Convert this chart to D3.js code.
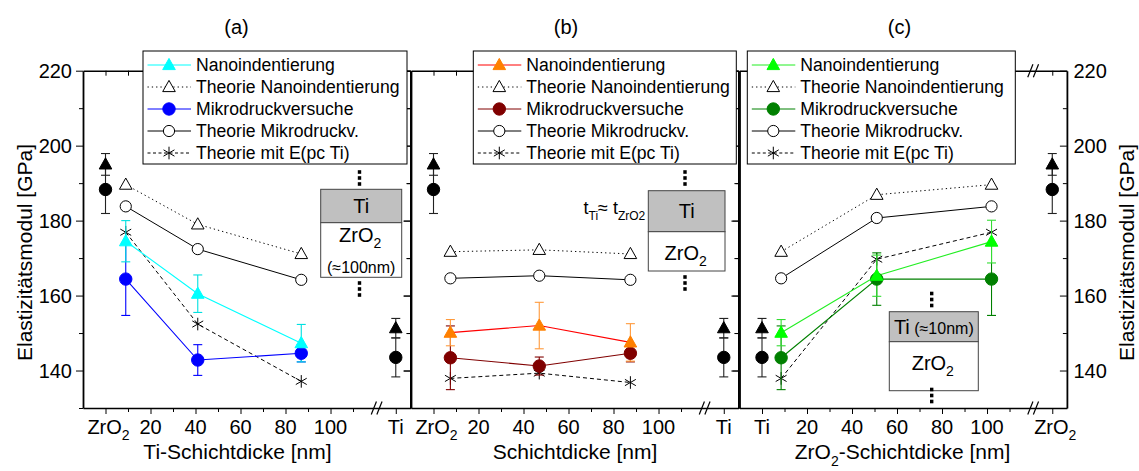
<!DOCTYPE html>
<html>
<head>
<meta charset="utf-8">
<title>Elastizitätsmodul</title>
<script src="https://d3js.org/d3.v7.min.js"></script>
<style>
body { margin: 0; background: #fff; }
svg text { font-family: "Liberation Sans", Arial, sans-serif; fill: #000; }
</style>
</head>
<body>
<svg id="chart" width="1139" height="471"></svg>
<script>
// ---- data ----
const panelTitles = ["(a)", "(b)", "(c)"];
const axisTitles = ["Ti-Schichtdicke [nm]", "Schichtdicke [nm]", "ZrO|_2|-Schichtdicke [nm]"];
const numTicks = [20, 40, 60, 80, 100];
const minorTicks = [10, 30, 50, 70, 90, 110];
const yTicks = [140, 160, 180, 200, 220];
const yMinor = [130, 150, 170, 190, 210];
const endLabels = [["ZrO|_2", "Ti"], ["ZrO|_2", "Ti"], ["Ti", "ZrO|_2"]];
const legendNames = ["Nanoindentierung", "Theorie Nanoindentierung", "Mikrodruckversuche",
                     "Theorie Mikrodruckv.", "Theorie mit E(pc Ti)"];
const insetTop = ["Ti", "Ti", "Ti| (≈10nm)"];
const insetNote = ["(≈100nm)", "", ""];

// bulk reference values: [ZrO2, Ti]
const refNano = [195, 151.3];
const refNanoErr = [2.9, 2.6];
const refMikro = [188.3, 143.5];
const refMikroErr = [6.4, 5.2];

// (a) Ti layer thickness varied
const thickA = [9, 41, 87];
const nanoA = [174.5, 160.5, 147.3];
const nanoErrA = [5.5, 5, 5];
const theoNanoA = [189.6, 179, 171.1];
const mikroA = [164.4, 142.8, 144.6];
const mikroErrA = [9.7, 4.1, 2.3];
const theoMikroA = [183.8, 172.4, 164.2];
const theoPcA = [176.9, 152.4, 137.1];

// (b) equal layer thickness
const thickB = [7.5, 47, 87.5];
const nanoB = [150.1, 152, 147.5];
const nanoErrB = [3.5, 6.2, 5];
const theoNanoB = [171.7, 172.2, 171.1];
const mikroB = [143.4, 141.2, 144.6];
const mikroErrB = [8.5, 2.4, 2.3];
const theoMikroB = [164.6, 165.3, 164.2];
const theoPcB = [137.9, 139.3, 136.8];

// (c) ZrO2 layer thickness varied
const thickC = [8.5, 51, 102];
const nanoC = [150.1, 165.3, 174.4];
const nanoErrC = [3.5, 5.5, 5.7];
const theoNanoC = [171.7, 186.9, 189.6];
const mikroC = [143.4, 164.4, 164.4];
const mikroErrC = [8.5, 7, 9.7];
const theoMikroC = [164.6, 180.7, 183.8];
const theoPcC = [137.9, 169.7, 176.9];

// ---- layout ----
const svg = d3.select("#chart");
const W = 327.4;
const x = d3.scaleLinear().domain([-10, 135.5]).range([0, W]);
const y = d3.scaleLinear().domain([130, 220]).range([408, 70.7]);
const endX = [0, 129];
const breakAt = 120.5;

const panels = [
  { left: 83, thick: thickA, nano: nanoA, nanoErr: nanoErrA, theoNano: theoNanoA, mikro: mikroA,
    mikroErr: mikroErrA, theoMikro: theoMikroA, theoPc: theoPcA,
    nanoLine: "#00ffff", nanoFill: "#00ffff", nanoErrCol: "#00e0e0", mikroCol: "#0000ff",
    refOrder: [0, 1], legX: 143, legW: 264, titleX: 154.5, capX: 153.5,
    box: [237.7, 189.3, 81, 33.4, 54.6], dotX: 276.5, dotsUp: 172, dotsDown: 283 },
  { left: 411, thick: thickB, nano: nanoB, nanoErr: nanoErrB, theoNano: theoNanoB, mikro: mikroB,
    mikroErr: mikroErrB, theoMikro: theoMikroB, theoPc: theoPcB,
    nanoLine: "#ff0000", nanoFill: "#ff8000", nanoErrCol: "#ff9a3c", mikroCol: "#800000",
    refOrder: [0, 1], legX: 473.3, legW: 263, titleX: 164, capX: 155,
    box: [237.3, 190.7, 76.7, 41, 39.3], dotX: 274, dotsUp: 172, dotsDown: 277 },
  { left: 739.5, thick: thickC, nano: nanoC, nanoErr: nanoErrC, theoNano: theoNanoC, mikro: mikroC,
    mikroErr: mikroErrC, theoMikro: theoMikroC, theoPc: theoPcC,
    nanoLine: "#22ee22", nanoFill: "#00ff00", nanoErrCol: "#33dd33", mikroCol: "#008000",
    refOrder: [1, 0], legX: 747.3, legW: 268, titleX: 163, capX: 160,
    box: [149.8, 311.7, 89, 30, 49], dotX: 192.2, dotsUp: 293.5, dotsDown: 389.5 }
];

// text with subscripts: segments split by "|", a leading "_" marks a subscript
function rich(t, s, fs) {
  let low = false;
  s.split("|").forEach(p => {
    const sub = p.startsWith("_");
    const txt = sub ? p.slice(1) : p;
    const dy = sub && !low ? fs * 0.32 : (!sub && low ? -fs * 0.32 : 0);
    low = sub;
    t.append("tspan").attr("dy", dy)
      .style("font-size", (sub ? Math.round(fs * 0.68) : fs) + "px").text(txt);
  });
  return t;
}

const triPath = "M0,-6.6L6.3,4.6L-6.3,4.6Z";
const starPath = (() => {
  const r = 6.3, t = r / 2, u = t * Math.sqrt(3);
  return `M0,${r}L0,${-r}M${-u},${-t}L${u},${t}M${-u},${t}L${u},${-t}`;
})();
const circPath = r => d3.symbol(d3.symbolCircle, Math.PI * r * r)();

function marker(g, type, cx, cy, fill, stroke) {
  const d = type === "tri" ? triPath : type === "star" ? starPath : circPath(type === "circ" ? 6.2 : 5.6);
  g.append("path").attr("d", d).attr("transform", `translate(${cx},${cy})`)
    .attr("fill", type === "star" ? "none" : fill).attr("stroke", stroke).attr("stroke-width", 1);
}

function errBar(g, cx, v, e, col) {
  const g2 = g.append("g").attr("stroke", col).attr("stroke-width", 1.1);
  g2.append("line").attr("x1", cx).attr("x2", cx).attr("y1", y(v - e)).attr("y2", y(v + e));
  [v - e, v + e].forEach(w => g2.append("line").attr("x1", cx - 4.5).attr("x2", cx + 4.5)
    .attr("y1", y(w)).attr("y2", y(w)));
}

function breakMark(g, yy) {
  const bx = x(breakAt);
  [-2.8, 2.8].forEach(o => g.append("line")
    .attr("x1", bx + o - 2.6).attr("y1", yy + 6.5).attr("x2", bx + o + 2.6).attr("y2", yy - 6.5)
    .attr("stroke", "#000").attr("stroke-width", 1.2));
}

const line = d3.line().x(d => x(d[0])).y(d => y(d[1]));
const pairs = (xs, ys) => xs.map((v, i) => [v, ys[i]]);

panels.forEach((p, pi) => {
  const g = svg.append("g").attr("transform", `translate(${p.left},0)`);

  // x axes (bottom and top), all ticks point down
  [y(130), y(220)].forEach((yy, k) => {
    const major = g.append("g").attr("transform", `translate(0,${yy})`)
      .call(d3.axisBottom(x).tickValues([0, ...numTicks, 129]).tickSize(k === 0 ? 6 : 5)
        .tickSizeOuter(0).tickFormat(""));
    major.select(".domain").attr("stroke-width", 1.6);
    const minor = g.append("g").attr("transform", `translate(0,${yy})`)
      .call(d3.axisBottom(x).tickValues(minorTicks).tickSize(k === 0 ? 4 : 5).tickFormat(""));
    minor.select(".domain").remove();
    breakMark(g, yy);
  });

  // y axes on both edges, ticks point left
  [0, W].forEach(ex => {
    const a = g.append("g").attr("transform", `translate(${ex},0)`)
      .call(d3.axisLeft(y).tickValues(yTicks).tickSize(7).tickSizeOuter(0).tickFormat(""));
    a.select(".domain").attr("stroke-width", 1.8);
    const m = g.append("g").attr("transform", `translate(${ex},0)`)
      .call(d3.axisLeft(y).tickValues(yMinor).tickSize(4).tickFormat(""));
    m.select(".domain").remove();
  });

  // x tick labels
  g.selectAll(".xnum").data(numTicks).enter().append("text")
    .attr("x", d => x(d)).attr("y", 433.5).attr("text-anchor", "middle")
    .style("font-size", "20px").text(d => d);
  endX.forEach((v, i) => {
    rich(g.append("text").attr("x", x(v) + (endLabels[pi][i] === "Ti" ? 0 : 3)).attr("y", 433.5)
      .attr("text-anchor", "middle"), endLabels[pi][i], 20);
  });

  // titles
  rich(g.append("text").attr("x", p.titleX).attr("y", 459).attr("text-anchor", "middle"), axisTitles[pi], 21);
  g.append("text").attr("x", p.capX).attr("y", 34).attr("text-anchor", "middle")
    .style("font-size", "20px").text(panelTitles[pi]);

  // bulk references at both ends
  p.refOrder.forEach((ri, k) => {
    const cx = x(endX[k]);
    errBar(g, cx, refMikro[ri], refMikroErr[ri], "#222");
    errBar(g, cx, refNano[ri], refNanoErr[ri], "#222");
    marker(g, "tri", cx, y(refNano[ri]), "#000", "#000");
    marker(g, "circ", cx, y(refMikro[ri]), "#000", "#000");
  });

  // theory curves
  g.append("path").attr("d", line(pairs(p.thick, p.theoNano))).attr("fill", "none")
    .attr("stroke", "#000").attr("stroke-dasharray", "1.3,3").attr("stroke-width", 1);
  g.append("path").attr("d", line(pairs(p.thick, p.theoMikro))).attr("fill", "none")
    .attr("stroke", "#000").attr("stroke-width", 1);
  g.append("path").attr("d", line(pairs(p.thick, p.theoPc))).attr("fill", "none")
    .attr("stroke", "#000").attr("stroke-dasharray", "4,3").attr("stroke-width", 1);
  p.thick.forEach((t, i) => {
    marker(g, "tri", x(t), y(p.theoNano[i]), "#fff", "#000");
    marker(g, "ocirc", x(t), y(p.theoMikro[i]), "#fff", "#000");
    marker(g, "star", x(t), y(p.theoPc[i]), "none", "#000");
  });

  // measurements
  p.thick.forEach((t, i) => {
    errBar(g, x(t), p.mikro[i], p.mikroErr[i], p.mikroCol);
    errBar(g, x(t), p.nano[i], p.nanoErr[i], p.nanoErrCol);
  });
  g.append("path").attr("d", line(pairs(p.thick, p.mikro))).attr("fill", "none")
    .attr("stroke", p.mikroCol).attr("stroke-width", 1.1);
  g.append("path").attr("d", line(pairs(p.thick, p.nano))).attr("fill", "none")
    .attr("stroke", p.nanoLine).attr("stroke-width", 1.1);
  p.thick.forEach((t, i) => {
    marker(g, "circ", x(t), y(p.mikro[i]), p.mikroCol, p.mikroCol);
    marker(g, "tri", x(t), y(p.nano[i]), p.nanoFill, p.nanoFill);
  });

  // layer sketch
  const [bx, by, bw, bh1, bh2] = p.box;
  g.append("rect").attr("x", bx).attr("y", by).attr("width", bw).attr("height", bh1)
    .attr("fill", "#c0c0c0").attr("stroke", "#444");
  g.append("rect").attr("x", bx).attr("y", by + bh1).attr("width", bw).attr("height", bh2)
    .attr("fill", "#fff").attr("stroke", "#444");
  const tTop = g.append("text").attr("x", bx + bw / 2).attr("y", by + bh1 / 2 + 7).attr("text-anchor", "middle");
  insetTop[pi].split("|").forEach((s, k) => tTop.append("tspan").style("font-size", k ? "16px" : "20px").text(s));
  rich(g.append("text").attr("x", bx + bw / 2 - 1).attr("y", by + bh1 + (pi === 0 ? 19 : 28))
    .attr("text-anchor", "middle"), "ZrO|_2", 20);
  if (insetNote[pi]) g.append("text").attr("x", bx + bw / 2).attr("y", by + bh1 + 50)
    .attr("text-anchor", "middle").style("font-size", "16px").text(insetNote[pi]);
  [p.dotsUp, p.dotsDown].forEach(d0 => [0, 6, 12].forEach(o => g.append("rect")
    .attr("x", p.dotX - 1.7).attr("y", d0 + o - 1.8).attr("width", 3.4).attr("height", 3.6).attr("fill", "#000")));
  if (pi === 1) {
    rich(g.append("text").attr("x", bx - 3).attr("y", 214).attr("text-anchor", "end"),
      "t|_Ti|≈ t|_ZrO2", 18);
  }
});

// legends
panels.forEach(p => {
  const lg = svg.append("g").attr("transform", `translate(${p.legX},51)`);
  lg.append("rect").attr("width", p.legW).attr("height", 113).attr("fill", "#fff").attr("stroke", "#000");
  const styles = [
    { col: p.nanoLine, dash: null, m: "tri", fill: p.nanoFill, st: p.nanoFill },
    { col: "#000", dash: "1.3,3", m: "tri", fill: "#fff", st: "#000" },
    { col: p.mikroCol, dash: null, m: "circ", fill: p.mikroCol, st: p.mikroCol },
    { col: "#000", dash: null, m: "ocirc", fill: "#fff", st: "#000" },
    { col: "#000", dash: "3,2.5", m: "star", fill: "none", st: "#000" }
  ];
  legendNames.forEach((name, i) => {
    const ry = 14 + i * 22;
    const s = styles[i];
    lg.append("line").attr("x1", 4.5).attr("x2", 48).attr("y1", ry).attr("y2", ry)
      .attr("stroke", s.col).attr("stroke-width", 1).attr("stroke-dasharray", s.dash);
    marker(lg, s.m, 26, ry, s.fill, s.st);
    lg.append("text").attr("x", 53).attr("y", ry + 6.3).style("font-size", "17.6px").text(name);
  });
});

// y tick labels and axis titles
svg.selectAll(".yl").data(yTicks).enter().append("text")
  .attr("x", 72).attr("y", d => y(d) + 7).attr("text-anchor", "end")
  .style("font-size", "20px").text(d => d);
svg.selectAll(".yr").data(yTicks).enter().append("text")
  .attr("x", 1073.5).attr("y", d => y(d) + 7).attr("text-anchor", "start")
  .style("font-size", "20px").text(d => d);
[24, 1126.5].forEach(cx => svg.append("text")
  .attr("transform", `translate(${cx},252.5) rotate(-90)`).attr("dy", "0.36em")
  .attr("text-anchor", "middle").style("font-size", "21px").text("Elastizitätsmodul [GPa]"));
</script>
</body>
</html>
